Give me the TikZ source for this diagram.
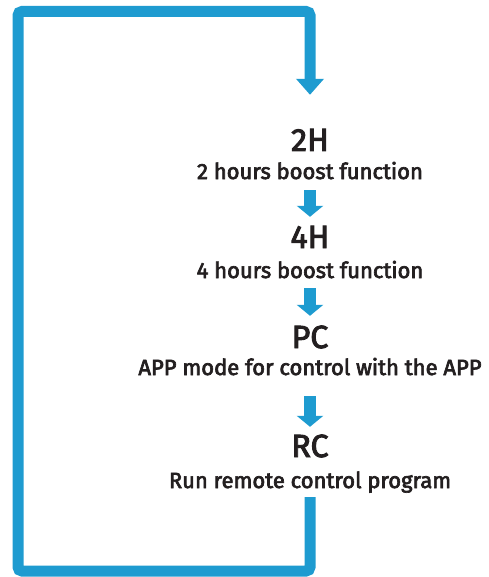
\documentclass[tikz,border=0pt]{standalone}
\usepackage{fontspec}
\setmainfont{Fira Sans}[BoldFont={Fira Sans}, BoldFeatures={FakeBold=3}]
\usetikzlibrary{arrows.meta}
\definecolor{loopblue}{RGB}{30,155,208}
\definecolor{ink}{RGB}{35,31,32}
\tikzset{
  title/.style={inner sep=0pt, anchor=base, text height=22pt, text depth=0pt, text=ink, font=\fontsize{32}{32}\selectfont\bfseries},
  sub/.style={inner sep=0pt, anchor=base, text depth=0pt, text=ink, font=\fontsize{22}{22}\selectfont\bfseries},
  steparrow/.style={draw=loopblue, line width=12pt, -{Triangle[width=26pt,length=11pt]}},
}
\begin{document}
\begin{tikzpicture}[x=1pt, y=-1pt]
    \useasboundingbox (0,0) rectangle (488,577);

    % Labels
    \node[title] (t2H) at (310,151) {2H};
    \node[sub] (s2H) at (310,179) {2 hours boost function};
    \node[title] (t4H) at (310,248) {4H};
    \node[sub] (s4H) at (310,278) {4 hours boost function};
    \node[title] (tPC) at (310,348) {PC};
    \node[sub] (sPC) at (310,375) {APP mode for control with the APP};
    \node[title] (tRC) at (310,457) {RC};
    \node[sub] (sRC) at (310,488) {Run remote control program};

    % Step arrows
    \draw[steparrow, shorten <=11pt, shorten >=9pt] (s2H.south) -- (t4H.north);
    \draw[steparrow, shorten <=10pt, shorten >=10pt] (s4H.south) -- (tPC.north);
    \draw[steparrow, shorten <=21pt, shorten >=8pt] (sPC.south) -- (tRC.north);

    % Loop back
    \draw[loopblue, line width=11pt, rounded corners=4pt, shorten <=9pt, shorten >=34pt,
          -{Triangle[width=27pt,length=16pt]}]
        (sRC.south) -- (sRC.south |- 0,571) -- (18,571) -- (18,11.5)
        -- (t2H.north |- 0,11.5) -- (t2H.north);
\end{tikzpicture}
\end{document}
